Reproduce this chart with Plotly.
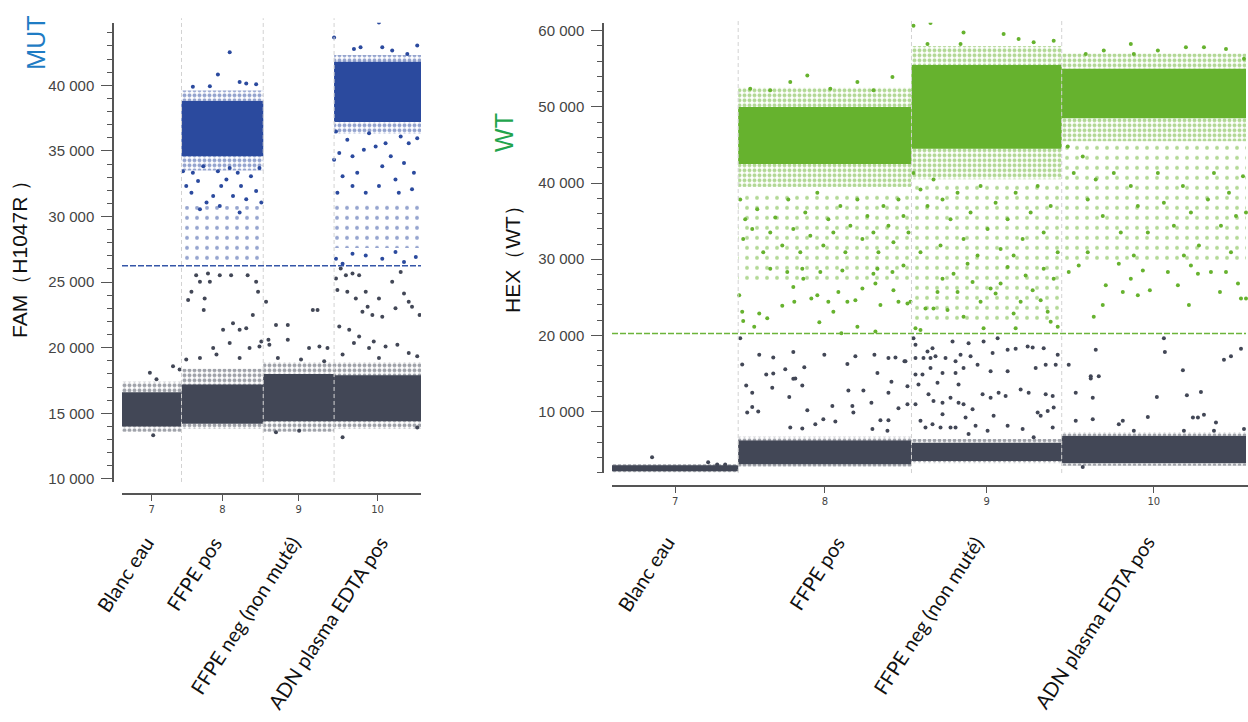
import plotly.graph_objects as go

wells = ["7", "8", "9", "10"]
samples = ["Blanc eau", "FFPE pos", "FFPE neg (non muté)", "ADN plasma EDTA pos"]
# droplet index (x100) at which each well starts / ends in the merged plot
well_start = [0, 126, 299, 449]
well_end = [126, 299, 449, 633]

fam_threshold = 26250
hex_threshold = 20250

# dense droplet clusters per well: (low, high) amplitude, None = no cluster
fam_neg_core = [(14000, 16600), (14200, 17200), (14400, 18000), (14400, 17900)]
fam_neg_fringe = [(13600, 17400), (13800, 18400), (13600, 18900), (13800, 18900)]
fam_pos_core = [None, (34600, 38800), None, (37200, 41800)]
fam_pos_fringe = [None, (33500, 39600), None, (36300, 42300)]
fam_pos_sparse = [None, (26400, 30800), None, (27600, 31200)]

hex_neg_core = [(2150, 2950), (3100, 6200), (3500, 5900), (3200, 6800)]
hex_neg_fringe = [(2000, 3100), (2800, 6700), (3200, 6400), (2900, 7300)]
hex_pos_core = [None, (42500, 50000), (44500, 55500), (48500, 55000)]
hex_pos_fringe = [None, (39500, 52500), (40500, 58000), (45500, 57000)]
hex_pos_sparse = [None, (27000, 38500), (21500, 40000), (29500, 45000)]

# isolated droplets ("rain"): (droplet index x100, amplitude)
fam_neg_rain = [
    (108, 18590), (122, 18340), (59, 18090), (73, 17590), (66, 13330),
    (140, 23630), (147, 24260), (157, 25520), (165, 25020), (173, 22880), (175, 23760),
    (182, 25650), (186, 25020), (207, 25520), (231, 25520), (235, 21870), (249, 21370),
    (263, 21490), (266, 25520), (284, 25020), (288, 24260), (277, 22500), (214, 21370),
    (228, 20360), (193, 19980), (165, 19220), (136, 19100), (200, 19480), (249, 19220),
    (270, 19980), (291, 20100), (295, 20480),
    (305, 23510), (326, 21740), (310, 20610), (312, 20230), (351, 20610), (351, 21740),
    (404, 22880), (414, 22880), (396, 19980), (418, 20100), (435, 19980), (330, 19220),
    (379, 19100), (428, 18970), (326, 13550), (375, 13680),
    (453, 25270), (463, 26030), (474, 25520), (488, 25650), (502, 25520), (516, 24260),
    (456, 24390), (477, 24260), (495, 23760), (509, 22750), (520, 23130), (530, 22500),
    (544, 23760), (551, 22370), (572, 25020), (579, 23000), (590, 25770), (597, 24140),
    (607, 23510), (614, 23130), (630, 22500), (460, 21620), (481, 21370), (502, 20860),
    (491, 20360), (523, 19980), (533, 20480), (558, 20100), (583, 20230), (607, 19600),
    (625, 19350), (467, 19480), (544, 19220), (467, 13170), (625, 13930),
]
fam_pos_rain = [
    (129, 33450), (136, 32320), (147, 31810), (150, 33330), (161, 32700), (172, 33830),
    (179, 31060), (193, 31560), (203, 33450), (210, 32320), (221, 32820), (228, 33700),
    (235, 31560), (245, 33330), (252, 32320), (263, 31310), (273, 33070), (284, 31940),
    (291, 33700), (295, 31060), (165, 30550), (249, 30300), (207, 30810), (228, 42520),
    (203, 40830), (249, 40250), (263, 40130), (186, 39930), (284, 40080), (150, 39880),
    (544, 44790), (449, 43650), (505, 42900), (551, 42900), (625, 43030), (491, 42770),
    (572, 42650), (604, 42390), (453, 36470), (460, 34840), (477, 35850), (488, 34590),
    (498, 33330), (512, 35090), (523, 36350), (537, 35340), (551, 33830), (558, 35590),
    (569, 34590), (579, 32820), (590, 36100), (597, 34080), (607, 35590), (618, 33330),
    (625, 35970), (467, 33070), (488, 32320), (516, 31810), (544, 32320), (586, 31810),
    (456, 31810), (614, 32070), (449, 34330), (453, 26780), (467, 26400), (488, 27160),
    (516, 27030), (551, 26780), (579, 27290), (597, 26530), (622, 26910),
]
hex_neg_rain = [
    (40, 4010), (96, 3360), (105, 3060), (113, 3060),
    (128, 19630), (147, 17460), (161, 17110), (181, 17810), (212, 17460), (243, 17250),
    (262, 17460), (276, 17030), (283, 17110), (292, 16600), (130, 16170), (154, 14860),
    (161, 15000), (173, 15560), (183, 14340), (192, 15820), (235, 16250), (265, 15080),
    (134, 13430), (140, 12470), (160, 13120), (181, 14300), (190, 13430), (177, 11910),
    (236, 12780), (251, 12780), (276, 12470), (279, 13900), (135, 9870), (140, 10610),
    (146, 10000), (195, 10170), (220, 10740), (240, 10740), (241, 9870), (259, 11170),
    (286, 10430), (295, 10950), (190, 7790), (211, 9000), (223, 8700), (268, 8870),
    (276, 8870), (260, 7700), (275, 7480), (178, 7920), (203, 8350),
    (301, 19630), (303, 18770), (320, 18330), (315, 17900), (340, 19200), (356, 18980),
    (371, 19200), (380, 17680), (385, 19630), (395, 18120), (403, 18250), (415, 18550),
    (420, 18420), (431, 18330), (445, 17460), (293, 16600), (303, 17030), (311, 17030),
    (318, 17030), (323, 17250), (333, 17030), (343, 16600), (348, 17460), (358, 17250),
    (365, 16160), (378, 15290), (395, 15290), (423, 15730), (433, 16160), (443, 16160),
    (303, 14860), (310, 14860), (318, 15730), (330, 15080), (343, 15080), (351, 15730),
    (306, 13560), (325, 13780), (346, 13560), (295, 13340), (316, 12260), (321, 11390),
    (330, 11170), (338, 11820), (346, 11170), (351, 10950), (360, 10300), (370, 12260),
    (378, 11820), (386, 12470), (393, 12040), (408, 12910), (416, 12470), (433, 12260),
    (440, 12040), (303, 10950), (308, 8780), (313, 7920), (320, 8350), (328, 7920),
    (338, 7920), (343, 7920), (356, 7050), (363, 8130), (375, 7480), (395, 8130),
    (410, 7700), (421, 6620), (425, 9870), (428, 9440), (435, 10090), (440, 7920),
    (381, 9440), (330, 9650), (353, 9220), (441, 10520),
    (456, 16160), (463, 12470), (463, 8780), (478, 14640), (486, 14640), (478, 14340),
    (483, 18120), (480, 11820), (480, 9000), (470, 2710), (506, 8350), (510, 8780),
    (521, 7480), (535, 9300), (544, 11910), (551, 19630), (552, 17810), (570, 15430),
    (574, 12130), (580, 9220), (585, 9220), (588, 12560), (591, 9570), (603, 8570),
    (611, 16810), (618, 17250), (628, 18250), (631, 7700), (571, 7480), (601, 7480),
]
hex_pos_rain = [
    (127, 25280), (130, 23110), (131, 21890), (142, 21150), (147, 22890), (155, 22240),
    (158, 28750), (170, 23890), (181, 26360), (182, 24410), (191, 27450), (199, 24840),
    (205, 25280), (207, 21720), (216, 24410), (221, 23110), (226, 25710), (230, 28530),
    (235, 24410), (243, 24630), (245, 21150), (250, 26150), (263, 26800), (265, 28750),
    (268, 23980), (281, 25930), (286, 24410), (295, 24190), (291, 29180), (280, 28310),
    (261, 28100), (208, 28310), (190, 28750), (175, 28310), (263, 20500), (229, 20290),
    (128, 37860), (133, 35260), (140, 33960), (131, 32650), (145, 36560), (151, 30920),
    (158, 33520), (163, 35480), (170, 31790), (176, 37860), (181, 33960), (188, 30920),
    (193, 36130), (198, 33090), (205, 38730), (211, 31790), (216, 35260), (221, 33520),
    (228, 36990), (233, 30920), (238, 34390), (245, 37860), (250, 32650), (255, 35690),
    (261, 33520), (266, 30920), (271, 36990), (276, 34390), (281, 32220), (286, 37860),
    (291, 35690), (296, 33520),
    (195, 54140), (178, 53270), (158, 52180), (138, 52400), (245, 53270), (280, 53920),
    (218, 52400), (261, 52180),
    (298, 24410), (303, 20940), (308, 20720), (313, 23540), (321, 23540), (325, 25710),
    (330, 27450), (335, 23320), (341, 28100), (345, 25710), (351, 22460), (355, 29400),
    (360, 27010), (368, 24410), (371, 20940), (378, 26150), (383, 25490), (388, 26800),
    (395, 28970), (401, 22890), (403, 20940), (408, 24410), (413, 27880), (420, 25930),
    (428, 24630), (435, 23110), (438, 21800), (445, 21150), (441, 27450), (431, 28750),
    (301, 41330), (308, 39160), (315, 37000), (321, 40460), (330, 37860), (338, 35260),
    (345, 38730), (351, 32650), (358, 36130), (368, 39600), (375, 33960), (383, 37430),
    (388, 31350), (395, 35260), (403, 38730), (410, 32650), (418, 36130), (425, 39600),
    (431, 33520), (438, 37000), (445, 30920), (308, 30920), (328, 31790), (365, 30480),
    (401, 30480), (301, 60650), (318, 61000), (351, 59780), (391, 59560), (406, 58910),
    (441, 58690), (315, 58260), (348, 58260), (421, 58480),
    (456, 28310), (466, 29180), (481, 22460), (490, 23980), (493, 26580), (506, 29400),
    (510, 25710), (518, 27450), (525, 25280), (530, 28530), (537, 25930), (555, 28310),
    (565, 26580), (576, 23980), (578, 29180), (585, 28100), (598, 28310), (607, 25710),
    (613, 28310), (625, 26800), (628, 24840), (633, 24840),
    (455, 44810), (461, 41330), (470, 43500), (475, 37860), (483, 40460), (490, 35690),
    (501, 41330), (508, 33520), (518, 39600), (525, 37000), (535, 33520), (545, 41330),
    (551, 37430), (561, 34390), (570, 39600), (578, 36130), (586, 31790), (595, 37860),
    (601, 41330), (608, 34390), (616, 38730), (623, 35690), (630, 40900), (633, 36130),
    (475, 30920), (521, 30480), (571, 30480), (618, 30920),
    (473, 56960), (491, 57390), (518, 58260), (545, 57390), (573, 57830), (591, 57830),
    (613, 57610), (631, 56310), (521, 56960),
]

GRAY = "#424756"
BLUE = "#2b4a9e"
GREEN = "#66b22e"
W, H = 1248, 722

centers = [(a + b) / 2 for a, b in zip(well_start, well_end)]
widths = [b - a for a, b in zip(well_start, well_end)]

# dot texture used to suggest droplets around the dense cores
TEXTURE = {"fringe": dict(size=5, solidity=0.5), "sparse": dict(size=10, solidity=0.12)}


def band(ranges, color, xa, ya, style):
    idx = [i for i, r in enumerate(ranges) if r is not None]
    marker = dict(color=color, line=dict(width=0))
    if style in TEXTURE:
        marker = dict(color="rgba(0,0,0,0)", line=dict(width=0),
                      pattern=dict(shape=".", fgcolor=color, bgcolor="rgba(0,0,0,0)",
                                   fillmode="overlay", **TEXTURE[style]))
    return go.Bar(x=[centers[i] for i in idx], width=[widths[i] for i in idx],
                  base=[ranges[i][0] for i in idx],
                  y=[ranges[i][1] - ranges[i][0] for i in idx],
                  marker=marker, xaxis=xa, yaxis=ya, showlegend=False, hoverinfo="skip")


def rain(points, color, xa, ya):
    return go.Scatter(x=[p[0] for p in points], y=[p[1] for p in points], mode="markers",
                      marker=dict(color=color, size=4, line=dict(width=0)),
                      xaxis=xa, yaxis=ya, showlegend=False)


fig = go.Figure()
for xa, ya, sets in [
    ("x", "y", [(fam_neg_fringe, GRAY, "fringe"), (fam_pos_sparse, BLUE, "sparse"),
                (fam_pos_fringe, BLUE, "fringe"), (fam_neg_core, GRAY, "core"),
                (fam_pos_core, BLUE, "core")]),
    ("x2", "y2", [(hex_neg_fringe, GRAY, "fringe"), (hex_pos_sparse, GREEN, "sparse"),
                  (hex_pos_fringe, GREEN, "fringe"), (hex_neg_core, GRAY, "core"),
                  (hex_pos_core, GREEN, "core")]),
]:
    for ranges, color, style in sets:
        fig.add_trace(band(ranges, color, xa, ya, style))

fig.add_trace(rain(fam_neg_rain, GRAY, "x", "y"))
fig.add_trace(rain(fam_pos_rain, BLUE, "x", "y"))
fig.add_trace(rain(hex_neg_rain, GRAY, "x2", "y2"))
fig.add_trace(rain(hex_pos_rain, GREEN, "x2", "y2"))

# thresholds
fig.add_trace(go.Scatter(x=[well_start[0], well_end[-1]], y=[fam_threshold] * 2, mode="lines",
                         line=dict(color="#3556a8", width=1.6, dash="6px,2px"),
                         xaxis="x", yaxis="y", showlegend=False))
fig.add_trace(go.Scatter(x=[well_start[0], well_end[-1]], y=[hex_threshold] * 2, mode="lines",
                         line=dict(color="#6cb43a", width=1.6, dash="6px,2px"),
                         xaxis="x2", yaxis="y2", showlegend=False))

# well separators
for xr, yr in [("x", "y domain"), ("x2", "y2 domain")]:
    for b in well_start[1:]:
        fig.add_shape(type="line", xref=xr, yref=yr, x0=b, x1=b, y0=0, y1=1.01,
                      line=dict(color="#d2d2d2", width=1, dash="4px,3px"), layer="above")

tick_font = dict(family="Liberation Sans, Arial", size=15, color="#444")
common_y = dict(anchor="free", showline=True, linecolor="#555", linewidth=1.5,
                ticks="outside", ticklen=11, tickcolor="#555", tickwidth=1.2,
                tickformat=",d", tickfont=tick_font, showgrid=False, zeroline=False,
                ticklabelstandoff=4)
common_x = dict(anchor="free", showline=True, linecolor="#555", linewidth=1.5,
                ticks="outside", ticklen=6, tickcolor="#555", tickvals=centers, ticktext=wells,
                tickfont=dict(family="DejaVu Sans", size=10, color="#444"),
                showgrid=False, zeroline=False)

fig.update_layout(
    width=W, height=H, margin=dict(l=0, r=0, t=0, b=0),
    paper_bgcolor="white", plot_bgcolor="white", barmode="overlay",
    separators=", ",
    xaxis=dict(common_x, domain=[122 / W, 421 / W], range=[0, 633], position=1 - 497 / H),
    yaxis=dict(common_y, domain=[1 - 485 / H, 1 - 22 / H], range=[9770, 44760],
               position=113 / W, tick0=0, dtick=5000,
               minor=dict(dtick=1000, ticks="outside", ticklen=5, tickcolor="#555")),
    xaxis2=dict(common_x, domain=[612 / W, 1.0], range=[0, 635], position=1 - 489 / H),
    yaxis2=dict(common_y, domain=[1 - 476 / H, 1 - 22 / H], range=[1930, 61040],
                position=603 / W, tick0=0, dtick=10000,
                minor=dict(dtick=2000, ticks="outside", ticklen=5, tickcolor="#555")),
)

title_font = dict(family="Liberation Sans, Arial", size=21, color="#111")
axis_titles = [
    ("FAM（H1047R ）", 20, 255, title_font),
    ("MUT", 36, 42, dict(family="Liberation Sans, Arial", size=25, color="#1f7cc4")),
    ("HEX（WT）", 513, 255, title_font),
    ("WT", 504, 133, dict(family="Liberation Sans, Arial", size=25, color="#22a44c")),
]
for text, px, py, font in axis_titles:
    fig.add_annotation(text=text, x=px / W, y=1 - py / H, xref="paper", yref="paper",
                       xanchor="center", yanchor="middle", textangle=-90,
                       showarrow=False, font=font)

# rotated sample names under each well
label_font = dict(family="Lato, Open Sans", size=20, color="#111")
left_shift = [9, 7, 9, 18]
right_shift = [6, 27, 4, 8]
for xr, shifts, ytop in [("x", left_shift, 532), ("x2", right_shift, 532)]:
    for c, name, s in zip(centers, samples, shifts):
        fig.add_annotation(text=name, x=c, y=1 - ytop / H, xref=xr, yref="paper",
                           xanchor="right", yanchor="top", xshift=s, textangle=-57,
                           showarrow=False, font=label_font)

fig.write_html("out.html", config={"displayModeBar": False},
               post_script="document.body.style.margin='0';")
